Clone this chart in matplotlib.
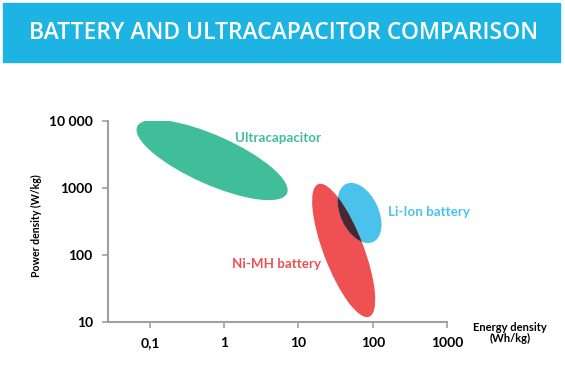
import matplotlib
matplotlib.use("Agg")
import matplotlib.pyplot as plt
from matplotlib.patches import Ellipse, Rectangle
from matplotlib.transforms import ScaledTranslation

# technology regions: centre (Wh/kg, W/kg)
names = ["Ultracapacitor", "Ni-MH battery", "Li-Ion battery"]
energy = [0.686, 40.6, 66.5]
power = [2620, 117, 424]
label_energy = [1.4, 1.27, 161]
label_power = [5570, 73.5, 438]

x_ticks = [0.1, 1, 10, 100, 1000]
x_tick_labels = ["0,1", "1", "10", "100", "1000"]
y_ticks = [10, 100, 1000, 10000]
y_tick_labels = ["10", "100", "1000", "10 000"]

# ellipse shape in inches (width, height, angle)
shapes = [(1.64, 0.49, -24), (1.42, 0.40, -69), (0.64, 0.38, -65)]
colors = ["#40bd99", "#ef5051", "#4bc2ec"]
overlap_color = "#4a2532"

plt.rcParams["font.family"] = ["Lato", "DejaVu Sans"]

fig = plt.figure(figsize=(5.65, 3.82), dpi=100)

# title banner
fig.patches.append(Rectangle((3 / 565, 1 - 62 / 382), 557 / 565, 59 / 382,
                             transform=fig.transFigure, color="#1db4e4", zorder=0))
fig.text(0.502, 1 - 33 / 382, "BATTERY AND ULTRACAPACITOR COMPARISON", color="white",
         fontsize=16.5, fontweight="semibold", ha="center", va="center",
         family=["Open Sans", "DejaVu Sans"])

ax = fig.add_axes([108 / 565, 1 - 322 / 382, 339 / 565, 201 / 382])
ax.set_xscale("log")
ax.set_yscale("log")
ax.set_xlim(0.0272, 1000)
ax.set_ylim(10, 10000)

patches = []
for i in range(3):
    w, h, ang = shapes[i]
    tr = fig.dpi_scale_trans + ScaledTranslation(energy[i], power[i], ax.transData)
    e = Ellipse((0, 0), w, h, angle=ang, transform=tr, facecolor=colors[i],
                edgecolor="none", zorder=2)
    ax.add_patch(e)
    patches.append(e)
    ax.text(label_energy[i], label_power[i], names[i], color=colors[i],
            fontsize=9.6, fontweight="bold", ha="left", va="center")

# dark overlap of Ni-MH and Li-Ion
w, h, ang = shapes[2]
tr = fig.dpi_scale_trans + ScaledTranslation(energy[2], power[2], ax.transData)
ov = Ellipse((0, 0), w, h, angle=ang, transform=tr, facecolor=overlap_color,
             edgecolor="none", zorder=3)
ax.add_patch(ov)
ov.set_clip_path(patches[1])

for s in ["top", "right"]:
    ax.spines[s].set_visible(False)
for s in ["left", "bottom"]:
    ax.spines[s].set_color("#a0a0a0")
    ax.spines[s].set_linewidth(1.5)

ax.set_xticks(x_ticks)
ax.set_xticklabels(x_tick_labels)
ax.set_yticks(y_ticks)
ax.set_yticklabels(y_tick_labels)
ax.minorticks_off()
ax.tick_params(axis="both", colors="#a0a0a0", length=4, width=1.2, labelcolor="black",
               labelsize=10, pad=7)
for t in ax.get_xticklabels() + ax.get_yticklabels():
    t.set_fontweight("bold")

fig.text(36 / 565, 1 - 226 / 382, "Power density (W/kg)", rotation=90, fontsize=7.6,
         fontweight="bold", ha="center", va="center")
fig.text(510 / 565, 1 - 333 / 382, "Energy density\n(Wh/kg)", fontsize=8,
         fontweight="bold", ha="center", va="center", linespacing=1.1)

fig.savefig("out.png", dpi=100)
